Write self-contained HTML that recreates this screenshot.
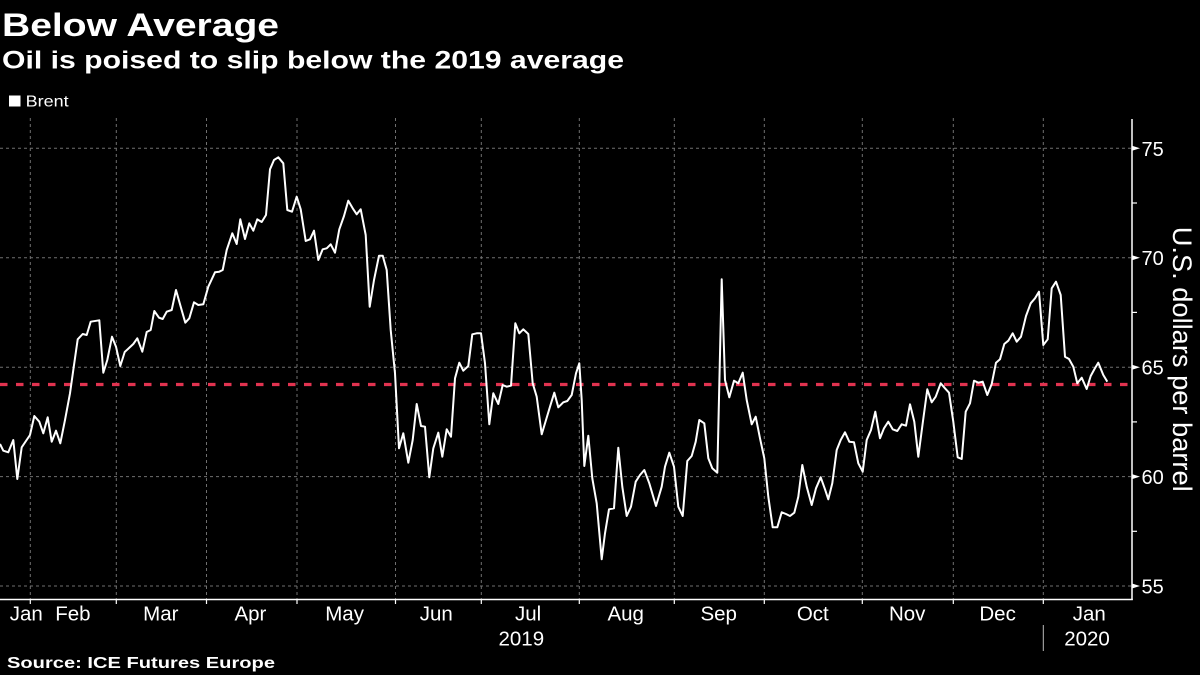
<!DOCTYPE html>
<html>
<head>
<meta charset="utf-8">
<style>
  html, body { margin: 0; padding: 0; background: #000; }
  svg { display: block; }
  text { font-family: "Liberation Sans", "DejaVu Sans", sans-serif; fill: #fff; }
</style>
</head>
<body>
<svg width="1200" height="675" viewBox="0 0 1200 675" xmlns="http://www.w3.org/2000/svg">
  <rect x="0" y="0" width="1200" height="675" fill="#000"/>

  <!-- Titles -->
  <text x="2" y="36" font-size="32" font-weight="bold" textLength="277" lengthAdjust="spacingAndGlyphs">Below Average</text>
  <text x="2" y="68.3" font-size="25" font-weight="bold" textLength="622" lengthAdjust="spacingAndGlyphs">Oil is poised to slip below the 2019 average</text>

  <!-- Legend -->
  <rect x="9" y="95.5" width="11.5" height="11" fill="#fff"/>
  <text x="25.7" y="106.7" font-size="16" textLength="43" lengthAdjust="spacingAndGlyphs">Brent</text>

  <!-- Horizontal gridlines -->
  <g stroke="#707070" stroke-width="1" stroke-dasharray="3 3" fill="none">
    <line x1="0" y1="148.3" x2="1132" y2="148.3"/>
    <line x1="0" y1="257.7" x2="1132" y2="257.7"/>
    <line x1="0" y1="367.2" x2="1132" y2="367.2"/>
    <line x1="0" y1="476.6" x2="1132" y2="476.6"/>
    <line x1="0" y1="586" x2="1132" y2="586"/>
  </g>
  <!-- Vertical gridlines -->
  <g stroke="#707070" stroke-width="1" stroke-dasharray="3 3" fill="none">
    <line x1="30.3" y1="118" x2="30.3" y2="599"/>
    <line x1="116.3" y1="118" x2="116.3" y2="599"/>
    <line x1="206.5" y1="118" x2="206.5" y2="599"/>
    <line x1="297" y1="118" x2="297" y2="599"/>
    <line x1="395.5" y1="118" x2="395.5" y2="599"/>
    <line x1="481.3" y1="118" x2="481.3" y2="599"/>
    <line x1="579.3" y1="118" x2="579.3" y2="599"/>
    <line x1="674.3" y1="118" x2="674.3" y2="599"/>
    <line x1="764.3" y1="118" x2="764.3" y2="599"/>
    <line x1="862.3" y1="118" x2="862.3" y2="599"/>
    <line x1="953.3" y1="118" x2="953.3" y2="599"/>
    <line x1="1043.3" y1="118" x2="1043.3" y2="599"/>
  </g>

  <!-- Average line -->
  <line x1="0" y1="384.5" x2="1129" y2="384.5" stroke="#e23350" stroke-width="3.2" stroke-dasharray="7.5 8.5"/>

  <!-- Brent series -->
  <polyline fill="none" stroke="#fff" stroke-width="2" stroke-linejoin="round" points="
0,444 3.3,450.7 8.3,452.3 13.3,440 17.3,479 21.7,447.3 30,435 34.3,416 39.3,421.7 43.3,433.3 47.7,417.3 51.7,441.7 56,430.7 60.3,443.3 65,420 70,393.3 73.3,370 77.7,339.3 82.7,334 86.7,335 90.7,321.7 99.3,320.3 103.3,372.7 107.3,360 112,336.7 116,346.7 120.3,366 124.7,352 133.3,344 137.3,338.3 142.3,351.7 146.7,332 150.7,330 154.3,311 159,317.7 162.7,319 166.7,311.7 171.7,310 176,290 180.7,306.7 185.3,322.7 189.3,318.3 194,302.3 198.3,305 203.3,304.3
208.3,286.7 215,272.3 219.3,271.7 222.7,270 226.7,250 232.3,233.3 236.7,244 240.3,219.3 245,239 249.3,223.3 253.3,230.7 257.3,219.3 261.7,222 266,215 270,169.3 274,160 278.3,157.3 283.3,163.3 287.3,210 292,211.7 296.7,196.7 300.7,209.3 305.7,241 310,239.3 314,230.7 318.3,260 322.7,249.3 326.7,248.3 330.7,244.3 335,252.7 339.3,229.3 344,216 348.3,200.7 352.7,208.3 356.7,214.3 360.7,209.3 365.7,235 369.7,306.7 374,280 379,255.7 382.7,255.7 386.7,270 390.7,330 395,373.3 399,448.3 403.3,433.3 408.3,462.7
412.7,440 416.7,404 421,426 425,426.7 429.3,477.3 433.3,448.3 438.3,432.7 442.3,456.7 446.7,429.3 451,436.7 455,378.3 459.3,362.7 463.3,370.7 468.3,366 472.3,334.3 476.7,333.3 481,333.3 485,363.3 489.3,424.3 493.3,393.3 498.3,404 502.7,385 506.7,386.7 511,385.7 515.3,323.3 519.3,333.3 523.3,329.3 528.3,334 532.7,383.3 536.7,396.7 541.7,434.3 546,420 550,406.7 554.3,392.7 558.3,407.3 563.3,402.3 567.3,401 571.7,395 576,373.3 579.3,363.3 581.7,400 584.3,466 588.3,435.7 592.3,478.3 596.7,503.3 601.7,559.3
605,533.3 609,509.3 614,508.3 618.3,447.7 622.3,486.7 626.7,516 631,506.7 635.7,481.7 640,475 644.3,470 649.3,483.3 656,506 661.7,486.7 665,466.7 669.3,452.7 674,466.7 678.3,506.7 682.7,516 687.3,461 691.7,456 695.7,441.7 699.3,420 704.3,423.3 708.3,458.3 712.3,468.3 717.3,472.7 721.7,279.3 725,380 729.3,397.3 734,380.7 738.3,383.3 742.7,372.7 746.7,400 751.7,424.3 755.7,416.7 760,438.3 764.3,458.3 768.3,496.7 772.7,527.3 777.3,527.3 781.7,512.3 786,514 790,516 794.3,512.7 798.3,496.7 802.3,465 806.7,486.7
811.7,505 816,488.3 820.7,477.3 825,489.3 828.3,499.3 832.3,483.3 836.7,450 840.7,440 845,432.3 849.3,441.7 854,442.3 858.3,463.3 862.7,471.7 866.7,440 871,430 875.3,411.7 880,438.3 884,428.3 888.3,421.7 892.7,429.3 897.3,431 901.7,424.3 906,425.7 910,404.3 914.3,421.7 918.3,456.7 922.7,423.3 927.3,389.3 931.7,402.3 935.7,396.7 940.7,383.3 945,388.3 949,392.7 953.3,421.7 957.7,457.3 961.7,459 965.7,411.7 970,403.3 974,380.7 978.3,382.7 982.7,381.7 987.3,395 991.7,384 996,362.7 1000,359.3 1004.3,344
1008.3,340.7 1012.7,333.3 1016.7,341.7 1021,336.7 1026,316 1030.7,303.3 1035,298.3 1039,291.7 1043.3,345 1047.7,339.3 1051.7,288.3 1056,281.7 1060.7,295 1065,356.7 1069,359 1073.3,366.7 1077.3,383.3 1081.7,377.7 1086.7,389 1090.7,376 1094.5,369 1098.3,362.7 1103.3,375 1107.3,381.7"/>

  <!-- Axes -->
  <line x1="0" y1="599.5" x2="1132.8" y2="599.5" stroke="#fff" stroke-width="1.5"/>
  <line x1="1132" y1="119" x2="1132" y2="600" stroke="#fff" stroke-width="1.5"/>

  <!-- X ticks -->
  <g stroke="#fff" stroke-width="1.2">
    <line x1="30.3" y1="599.5" x2="30.3" y2="604"/>
    <line x1="116.3" y1="599.5" x2="116.3" y2="604"/>
    <line x1="206.5" y1="599.5" x2="206.5" y2="604"/>
    <line x1="297" y1="599.5" x2="297" y2="604"/>
    <line x1="395.5" y1="599.5" x2="395.5" y2="604"/>
    <line x1="481.3" y1="599.5" x2="481.3" y2="604"/>
    <line x1="579.3" y1="599.5" x2="579.3" y2="604"/>
    <line x1="674.3" y1="599.5" x2="674.3" y2="604"/>
    <line x1="764.3" y1="599.5" x2="764.3" y2="604"/>
    <line x1="862.3" y1="599.5" x2="862.3" y2="604"/>
    <line x1="953.3" y1="599.5" x2="953.3" y2="604"/>
    <line x1="1043.3" y1="599.5" x2="1043.3" y2="604"/>
  </g>
  <line x1="1043.3" y1="625" x2="1043.3" y2="651" stroke="#bbb" stroke-width="1"/>

  <!-- Month labels -->
  <g font-size="20.5" text-anchor="middle">
    <text x="26.3" y="620.7">Jan</text>
    <text x="72.9" y="620.7">Feb</text>
    <text x="160.8" y="620.7">Mar</text>
    <text x="250.4" y="620.7">Apr</text>
    <text x="344.6" y="620.7">May</text>
    <text x="436.3" y="620.7">Jun</text>
    <text x="528.1" y="620.7">Jul</text>
    <text x="625.7" y="620.7">Aug</text>
    <text x="718.7" y="620.7">Sep</text>
    <text x="812.8" y="620.7">Oct</text>
    <text x="907.2" y="620.7">Nov</text>
    <text x="997.6" y="620.7">Dec</text>
    <text x="1089.3" y="620.7">Jan</text>
    <text x="521.3" y="645.7">2019</text>
    <text x="1087" y="645.7">2020</text>
  </g>

  <!-- Y ticks -->
  <g fill="#fff">
    <polygon points="1132,145.8 1140,148.3 1132,150.8"/>
    <polygon points="1132,255.2 1140,257.7 1132,260.2"/>
    <polygon points="1132,364.7 1140,367.2 1132,369.7"/>
    <polygon points="1132,474.1 1140,476.6 1132,479.1"/>
    <polygon points="1132,583.5 1140,586 1132,588.5"/>
  </g>
  <g stroke="#fff" stroke-width="1.2">
    <line x1="1132" y1="203" x2="1137" y2="203"/>
    <line x1="1132" y1="312.4" x2="1137" y2="312.4"/>
    <line x1="1132" y1="421.9" x2="1137" y2="421.9"/>
    <line x1="1132" y1="531.3" x2="1137" y2="531.3"/>
  </g>
  <g font-size="20">
    <text x="1141.5" y="155.8">75</text>
    <text x="1141.5" y="265.2">70</text>
    <text x="1141.5" y="374.7">65</text>
    <text x="1141.5" y="484.1">60</text>
    <text x="1141.5" y="593.5">55</text>
  </g>

  <!-- Y axis title -->
  <text transform="translate(1173,226.7) rotate(90)" font-size="27" textLength="265" lengthAdjust="spacingAndGlyphs">U.S. dollars per barrel</text>

  <!-- Source -->
  <text x="7" y="668" font-size="16" font-weight="bold" textLength="268" lengthAdjust="spacingAndGlyphs">Source: ICE Futures Europe</text>
</svg>
</body>
</html>
